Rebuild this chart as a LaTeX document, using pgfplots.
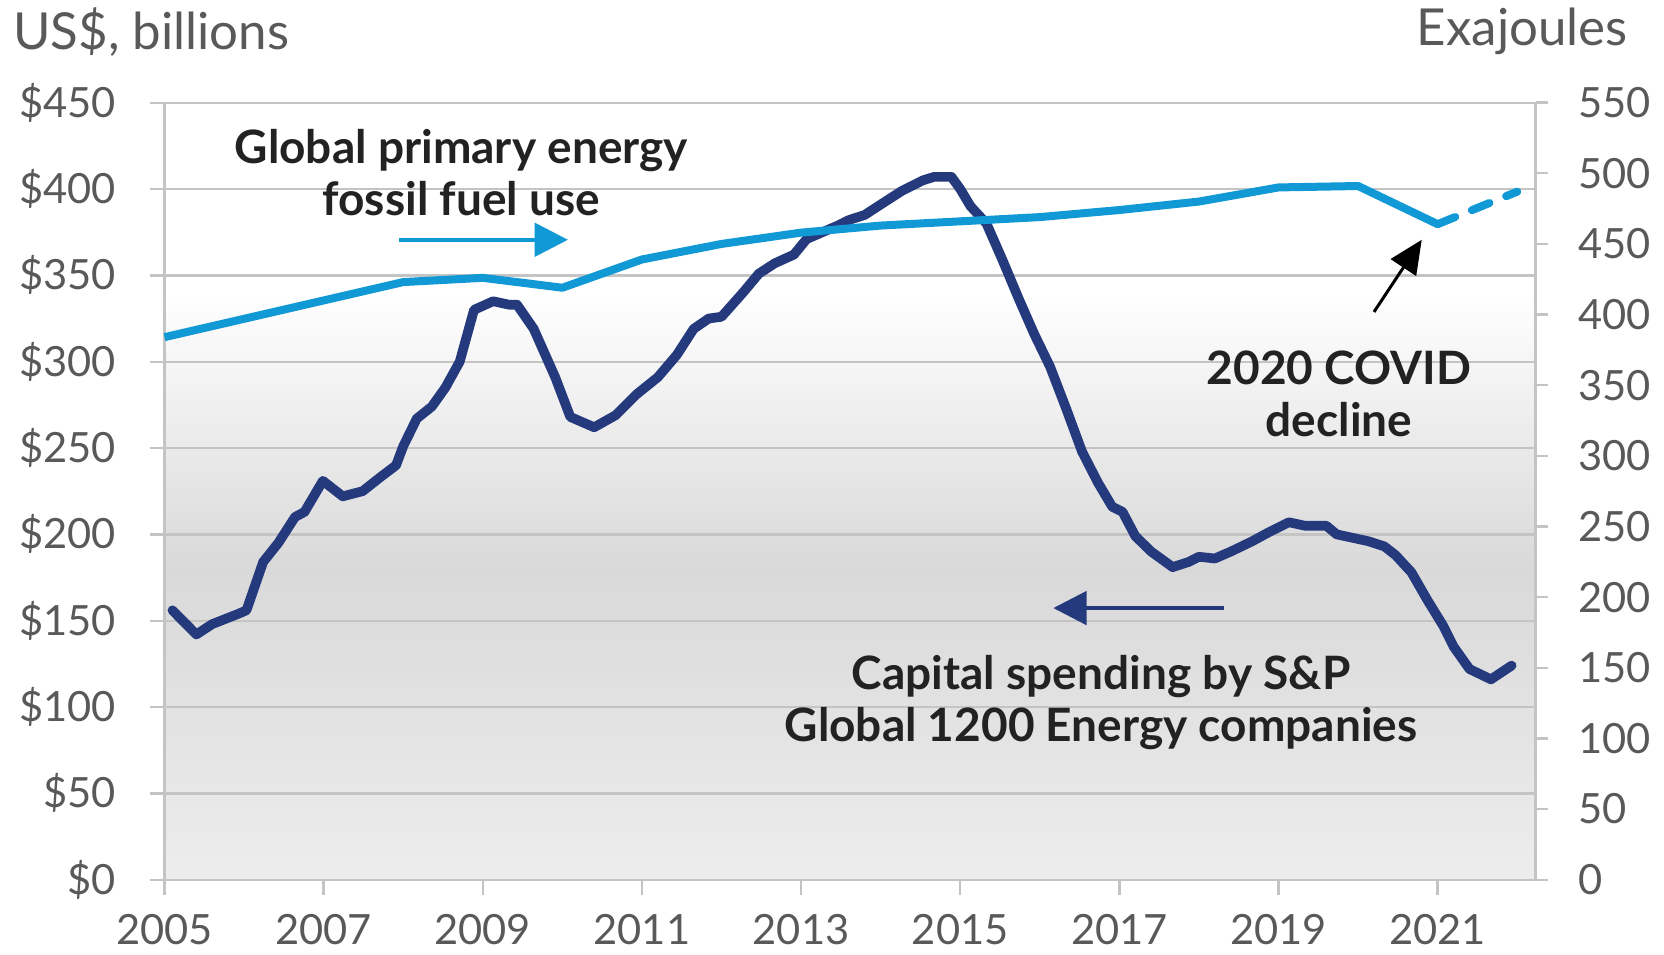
\documentclass[border=0pt]{standalone}
\usepackage{fontspec}
\setmainfont{Lato}
\usepackage{pgfplots}
\pgfplotsset{compat=1.18}
\usetikzlibrary{arrows.meta}
\definecolor{navy}{HTML}{253A7D}
\definecolor{sky}{HTML}{1199D6}
\definecolor{gridc}{HTML}{C4C4C4}
\definecolor{tickc}{HTML}{595959}
\definecolor{bgdark}{HTML}{D9D9D9}
\definecolor{bglight}{HTML}{EDEDED}
\definecolor{annot}{HTML}{222222}
\pgfdeclareverticalshading{bgshade}{100bp}{color(0bp)=(bglight); color(25bp)=(bglight); color(45bp)=(bgdark); color(62.8bp)=(white); color(75bp)=(white); color(100bp)=(white)}
\begin{document}
\begin{tikzpicture}
\useasboundingbox (0,0) rectangle (499.2pt,286.2pt);
\begin{axis}[
  at={(49.35pt,22.3pt)}, anchor=south west,
  scale only axis, width=411.3pt, height=233.1pt,
  xmin=2005, xmax=2022.23, ymin=0, ymax=450,
  axis background/.style={shading=bgshade},
  xtick={2005,2007,...,2021},
  xticklabels={2005,2007,2009,2011,2013,2015,2017,2019,2021},
  ytick={0,50,...,450},
  yticklabels={\$0,\$50,\$100,\$150,\$200,\$250,\$300,\$350,\$400,\$450},
  tick pos=left, tick align=outside, major tick length=4.5pt,
  ymajorgrids, grid style={gridc, line width=0.7pt},
  axis line style={gridc, line width=0.7pt},
  tick style={gridc, line width=0.7pt},
  ticklabel style={font=\fontsize{12.5}{15}\selectfont, text=tickc},
  yticklabel style={xshift=-6.5pt},
  xticklabel style={yshift=-2.4pt},
  clip=false,
]
\addplot[navy, line width=2.9pt, line join=round, line cap=round] coordinates {
(2005.10,156) (2005.40,142) (2005.60,148) (2005.93,154) (2006.03,156)
(2006.24,184) (2006.43,195) (2006.64,210) (2006.76,213) (2006.99,231)
(2007.24,222) (2007.49,225) (2007.71,233) (2007.91,240) (2008.00,251)
(2008.17,267) (2008.36,274) (2008.53,285) (2008.71,300) (2008.89,330)
(2009.13,335) (2009.33,333) (2009.43,333) (2009.64,319) (2009.91,291)
(2010.10,268) (2010.40,262) (2010.67,269) (2010.93,281) (2011.20,291)
(2011.44,304) (2011.65,319) (2011.84,325) (2012.00,326) (2012.27,340)
(2012.47,351) (2012.67,357) (2012.91,362) (2013.07,371) (2013.27,375)
(2013.47,379) (2013.60,382) (2013.80,385) (2014.00,391) (2014.27,399)
(2014.53,405) (2014.67,407) (2014.89,407) (2015.00,400) (2015.13,390)
(2015.33,380) (2015.53,359) (2015.73,337) (2015.93,316) (2016.13,297)
(2016.33,273) (2016.53,248) (2016.73,230) (2016.91,216) (2017.04,213)
(2017.20,199) (2017.40,190) (2017.67,181) (2017.87,184) (2018.00,187)
(2018.20,186) (2018.40,190) (2018.67,196) (2018.87,201) (2019.13,207)
(2019.33,205) (2019.60,205) (2019.73,200) (2019.93,198) (2020.13,196)
(2020.33,193) (2020.47,188) (2020.67,178) (2020.87,162) (2021.07,147)
(2021.20,135) (2021.40,122) (2021.67,116) (2021.93,124)
};
\node[align=center, font=\fontsize{13.8}{15.6}\selectfont\bfseries, text=annot] at (axis cs:2008.73,409.6) {Global primary energy\\fossil fuel use};
\draw[sky, line width=1.2pt, -{Triangle[length=10pt,width=10pt]}] (axis cs:2007.95,370.6) -- (axis cs:2010.07,370.6);
\draw[navy, line width=1.2pt, -{Triangle[length=10pt,width=10pt]}] (axis cs:2018.31,157.3) -- (axis cs:2016.17,157.3);
\node[align=center, font=\fontsize{13.8}{15.6}\selectfont\bfseries, text=annot] at (axis cs:2016.77,102.6) {Capital spending by S\&P\\Global 1200 Energy companies};
\node[align=center, font=\fontsize{13.8}{15.6}\selectfont\bfseries, text=annot] at (axis cs:2019.76,281.2) {2020 COVID\\decline};
\draw[black, line width=0.9pt, -{Triangle[length=10pt,width=9pt]}] (axis cs:2020.2,328.8) -- (axis cs:2020.8,370.6);
\end{axis}
\begin{axis}[
  at={(49.35pt,22.3pt)}, anchor=south west,
  scale only axis, width=411.3pt, height=233.1pt,
  xmin=2005, xmax=2022.23, ymin=0, ymax=550,
  axis x line=none, axis y line*=right,
  ytick={0,50,...,550},
  yticklabels={0,50,100,150,200,250,300,350,400,450,500,550},
  tick align=outside, major tick length=3.8pt,
  axis line style={gridc, line width=0.7pt},
  tick style={gridc, line width=0.7pt},
  ticklabel style={font=\fontsize{12.5}{15}\selectfont, text=tickc},
  yticklabel style={anchor=west, xshift=5.5pt},
  clip=false,
]
\addplot[sky, line width=2.4pt, line join=round] coordinates {
(2005,384) (2006,397) (2007,410) (2008,423) (2009,426) (2010,419)
(2011,439) (2012,450) (2013,458) (2014,463) (2015,466) (2016,469)
(2017,474) (2018,480) (2019,490) (2020,491) (2021,464)
};
\addplot[sky, line width=2.4pt, line cap=round, dash pattern=on 5.7pt off 5.4pt] coordinates {
(2021,464) (2022,487)
};
\end{axis}
\node[anchor=west, font=\fontsize{15.3}{17}\selectfont, text=tickc, inner sep=0pt] at (3.8pt,276.7pt) {US\$, billions};
\node[anchor=east, font=\fontsize{15.3}{17}\selectfont, text=tickc, inner sep=0pt] at (488.5pt,276.7pt) {Exajoules};
\end{tikzpicture}
\end{document}
